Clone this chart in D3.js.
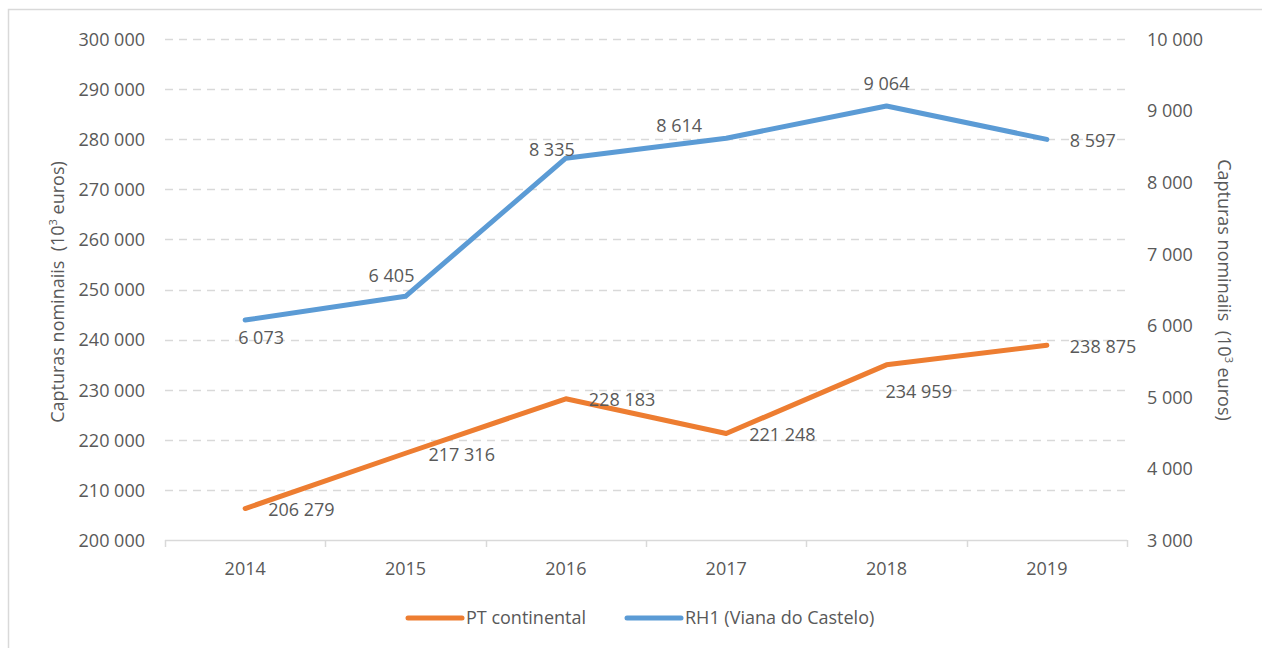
<!DOCTYPE html>
<html>
<head>
<meta charset="utf-8">
<script src="https://cdn.jsdelivr.net/npm/d3@7"></script>
<style>
  html, body { margin: 0; padding: 0; background: #fff; }
  svg { display: block; font-family: "Open Sans", "Noto Sans", sans-serif; }
</style>
</head>
<body>
<svg id="chart" width="1262" height="648"></svg>
<script>
// Nominal catches, 2014–2019 (10^3 euros)
const years = ["2014", "2015", "2016", "2017", "2018", "2019"];
const ptContinental = [206279, 217316, 228183, 221248, 234959, 238875];
const rh1Viana = [6073, 6405, 8335, 8614, 9064, 8597];

// Where each value label sits relative to its point
const ptLabelPlacement = ["right", "right", "right", "right", "belowRight", "right"];
const rh1LabelPlacement = ["below", "aboveLeft", "left", "aboveLeftFar", "above", "right"];

const leftTicks = [200000, 210000, 220000, 230000, 240000, 250000, 260000, 270000, 280000, 290000, 300000];
const rightTicks = [3000, 4000, 5000, 6000, 7000, 8000, 9000, 10000];

const seriesNames = ["PT continental", "RH1 (Viana do Castelo)"];
const colors = { pt: "#ED7D31", rh1: "#5B9BD5" };
const textColor = "#595959";
const gridColor = "#D9D9D9";

const svg = d3.select("#chart");
const fmt = v => d3.format(",")(v).replace(/,/g, " ");

const margin = { left: 165, right: 1127, top: 39, bottom: 540 };

const x = d3.scaleBand().domain(years).range([margin.left, margin.right]).padding(0);
const yL = d3.scaleLinear().domain([200000, 300000]).range([margin.bottom, margin.top]);
const yR = d3.scaleLinear().domain([3000, 10000]).range([margin.bottom, margin.top]);

// Outer frame
svg.append("rect")
  .attr("x", 8.5).attr("y", 9.5)
  .attr("width", 1400).attr("height", 800)
  .attr("fill", "none").attr("stroke", gridColor).attr("stroke-width", 1.5);

// Gridlines (left axis ticks)
svg.append("g").selectAll("line")
  .data(leftTicks.filter(t => t !== 200000))
  .join("line")
  .attr("x1", margin.left).attr("x2", margin.right)
  .attr("y1", d => Math.round(yL(d)) + 0.5).attr("y2", d => Math.round(yL(d)) + 0.5)
  .attr("stroke", gridColor).attr("stroke-width", 1.3)
  .attr("stroke-dasharray", "8,6");

// Left axis labels
const leftAxis = d3.axisLeft(yL).tickValues(leftTicks).tickFormat(fmt).tickSize(0).tickPadding(0);
const gL = svg.append("g").attr("transform", `translate(${145},0)`).call(leftAxis);
gL.select(".domain").remove();
gL.selectAll("text").attr("fill", textColor).attr("font-size", 18)
  .attr("font-family", "Open Sans, sans-serif").attr("dy", "0.35em");

// Right axis labels
const rightAxis = d3.axisRight(yR).tickValues(rightTicks).tickFormat(fmt).tickSize(0).tickPadding(0);
const gR = svg.append("g").attr("transform", `translate(${1147},0)`).call(rightAxis);
gR.select(".domain").remove();
gR.selectAll("text").attr("fill", textColor).attr("font-size", 18)
  .attr("font-family", "Open Sans, sans-serif").attr("dy", "0.35em");

// Category axis
const bottomAxis = d3.axisBottom(x).tickSize(0).tickPadding(22);
const gB = svg.append("g").attr("transform", `translate(0,${margin.bottom})`).call(bottomAxis);
gB.select(".domain").remove();
gB.selectAll("text").attr("fill", textColor).attr("font-size", 18)
  .attr("font-family", "Open Sans, sans-serif");
gB.append("line")
  .attr("x1", margin.left).attr("x2", margin.right)
  .attr("y1", 0.5).attr("y2", 0.5)
  .attr("stroke", gridColor).attr("stroke-width", 1.5);
const boundaries = years.map(y => x(y)).concat([x(years[years.length - 1]) + x.bandwidth()]);
gB.selectAll("line.tickmark").data(boundaries).join("line")
  .attr("class", "tickmark")
  .attr("x1", d => Math.round(d) + 0.5).attr("x2", d => Math.round(d) + 0.5)
  .attr("y1", 0).attr("y2", 7)
  .attr("stroke", gridColor).attr("stroke-width", 1.5);

// Axis titles
function axisTitle(g) {
  g.attr("fill", textColor).attr("font-size", 18).attr("text-anchor", "middle");
  g.append("tspan").text("Capturas nominaiis\u00a0\u00a0(10");
  g.append("tspan").text("3").attr("font-size", 11).attr("dy", -7);
  g.append("tspan").text(" euros)").attr("dy", 7);
}
svg.append("text")
  .attr("transform", `translate(64,292) rotate(-90)`)
  .call(axisTitle);
svg.append("text")
  .attr("transform", `translate(1218,290) rotate(90)`)
  .call(axisTitle);

// Lines
const cx = d => x(d) + x.bandwidth() / 2;
const lineL = d3.line().x((d, i) => cx(years[i])).y(d => yL(d));
const lineR = d3.line().x((d, i) => cx(years[i])).y(d => yR(d));

svg.append("path").datum(ptContinental)
  .attr("d", lineL).attr("fill", "none")
  .attr("stroke", colors.pt).attr("stroke-width", 5)
  .attr("stroke-linecap", "round").attr("stroke-linejoin", "round");

svg.append("path").datum(rh1Viana)
  .attr("d", lineR).attr("fill", "none")
  .attr("stroke", colors.rh1).attr("stroke-width", 5)
  .attr("stroke-linecap", "round").attr("stroke-linejoin", "round");

// Value labels
const offsets = {
  right:        { dx: 23,  dy: 1,   anchor: "start" },
  belowRight:   { dx: -1,  dy: 27,  anchor: "start" },
  below:        { dx: -7,  dy: 18,  anchor: "start" },
  left:         { dx: -14, dy: -8,  anchor: "middle" },
  aboveLeft:    { dx: -14, dy: -21, anchor: "middle" },
  aboveLeftFar: { dx: -47, dy: -12, anchor: "middle" },
  above:        { dx: 0,   dy: -22, anchor: "middle" }
};

function drawLabels(values, scale, placement) {
  svg.append("g").selectAll("text").data(values).join("text")
    .each(function (d, i) {
      const o = offsets[placement[i]];
      d3.select(this)
        .attr("x", cx(years[i]) + o.dx)
        .attr("y", scale(d) + o.dy)
        .attr("text-anchor", o.anchor);
    })
    .attr("dy", "0.35em")
    .attr("fill", textColor).attr("font-size", 18)
    .text(d => fmt(d));
}
drawLabels(ptContinental, yL, ptLabelPlacement);
drawLabels(rh1Viana, yR, rh1LabelPlacement);

// Legend
const legend = svg.append("g").attr("transform", "translate(0,618)");
const legendItems = [
  { name: seriesNames[0], color: colors.pt, x: 408 },
  { name: seriesNames[1], color: colors.rh1, x: 627 }
];
legendItems.forEach(it => {
  legend.append("line")
    .attr("x1", it.x).attr("x2", it.x + 54)
    .attr("y1", 0).attr("y2", 0)
    .attr("stroke", it.color).attr("stroke-width", 5).attr("stroke-linecap", "round");
  legend.append("text")
    .attr("x", it.x + 58).attr("y", 0).attr("dy", "0.35em")
    .attr("fill", textColor).attr("font-size", 18)
    .text(it.name);
});
</script>
</body>
</html>
